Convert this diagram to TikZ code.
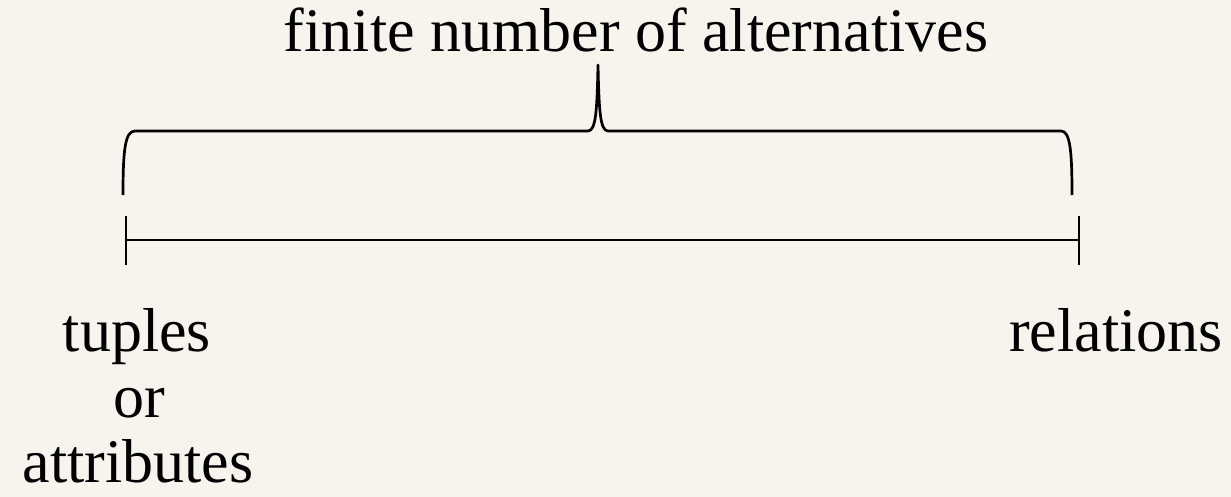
\documentclass[tikz,border=0pt]{standalone}
\usepackage{fontspec}
\setmainfont{Liberation Serif}
\usetikzlibrary{positioning}
\definecolor{paperbg}{HTML}{F7F4EE}

\begin{document}
\begin{tikzpicture}[x=1pt, y=-1pt,
  txt/.style={font=\fontsize{62}{72}\selectfont, inner sep=0pt, anchor=base},
  bar/.style={line width=2.9pt},
  tickline/.style={line width=2.3pt},
  bracepath/.style={line width=2.7pt, line join=round}
]
\fill[paperbg] (0,0) rectangle (1231,497);
\useasboundingbox (0,0) rectangle (1231,497);

\coordinate (l) at (126,240);
\coordinate (r) at (1079,240);
\coordinate (bl) at (123,195);
\coordinate (br) at (1072,195);
\coordinate (tip) at (598,65);

\node[txt] (alt) at (636,52) {finite number of alternatives};
\node[txt] (tup) at (137,351) {tuples};
\node[txt] (or) at (139,417) {or};
\node[txt] (att) at (138,482) {attributes};
\node[txt] (rel) at (1116,351) {relations};

% scale
\draw[bar] (l) -- (r);
\draw[tickline] ([yshift=-25pt]l) -- ([yshift=24pt]l);
\draw[tickline] ([yshift=-25pt]r) -- ([yshift=24pt]r);

% brace
\draw[bracepath] (bl) .. controls (123,150) and (125,131) .. (135,131) -- (588,131)
  .. controls (596,131) and (597,110) .. (tip)
  .. controls (599,110) and (600,131) .. (608,131) -- (1061,131)
  .. controls (1070,131) and (1072,150) .. (br);
\end{tikzpicture}
\end{document}
